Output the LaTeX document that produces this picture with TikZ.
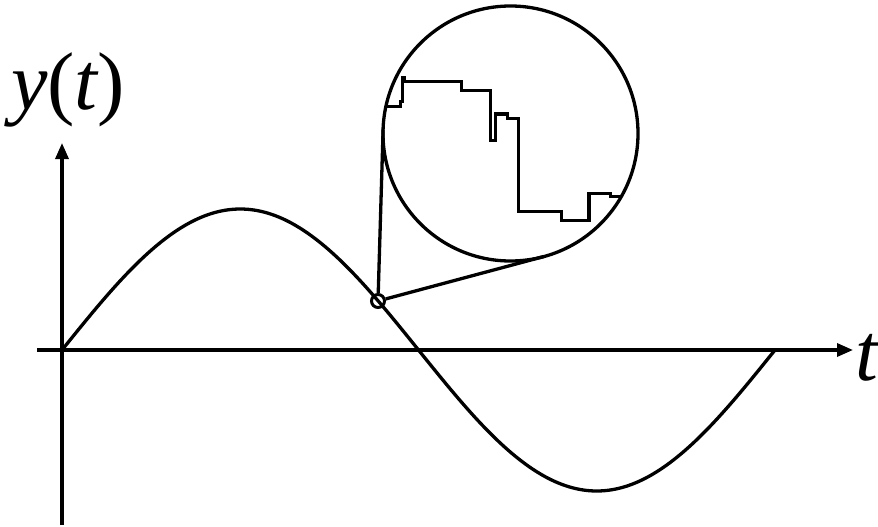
\documentclass[tikz,border=0pt]{standalone}
\usepackage{fontspec}
\setmainfont{Liberation Serif}
\usetikzlibrary{arrows.meta,calc}
\begin{document}
\begin{tikzpicture}[x=1pt,y=-1pt,
  ln/.style={line width=3.3pt,line join=miter},
  ax/.style={line width=3.3pt,-{Triangle[length=16pt,width=13pt]}},
  lbl/.style={inner sep=0pt,font=\fontsize{82}{82}\selectfont}]
\useasboundingbox (0,0) rectangle (878,527);
% axes
\coordinate (xs) at (37,350);
\coordinate (xe) at (853,350);
\coordinate (ys) at (62,525);
\coordinate (ye) at (62,143);
\draw[ax] (xs) -- (xe);
\draw[ax] (ys) -- (ye);
\node[lbl,anchor=base west] (ylab) at (11,110) {\itshape y\upshape(\itshape t\upshape)};
\node[lbl,anchor=base west] (tlab) at (855,380) {\itshape t};
% sine
\draw[ln,line join=round] plot[domain=62:775,samples=150,smooth] (\x,{350-141*sin(0.504909*(\x-62))});
% zoom circle
\node[draw,ln,circle,minimum size=255pt,inner sep=0pt] (zc) at (510.5,133.5) {};
\node[draw,line width=3pt,circle,minimum size=13pt,inner sep=0pt] (sc) at (378,301) {};
\coordinate (t1) at (383.1,129.6);
\coordinate (t2) at (543.6,256.6);
\draw[ln] (sc) -- (t1);
\draw[ln] (sc) -- (t2);
% staircase
\draw[ln] (386,106.7) -- (400.7,106.7) -- (400.7,101.7) -- (402.7,101.7) -- (402.7,77.5) -- (404.5,77.5) -- (404.5,81.7)
 -- (461.7,81.7) -- (461.7,90.7) -- (490.3,90.7) -- (490.3,140.7) -- (495.8,140.7) -- (495.8,114)
 -- (507.3,114) -- (507.3,118.3) -- (518.3,118.3) -- (518.3,211.7) -- (561.7,211.7) -- (561.7,220.7)
 -- (589,220.7) -- (589,193.3) -- (610.7,193.3) -- (610.7,196.7) -- (620,196.7);
\end{tikzpicture}
\end{document}
